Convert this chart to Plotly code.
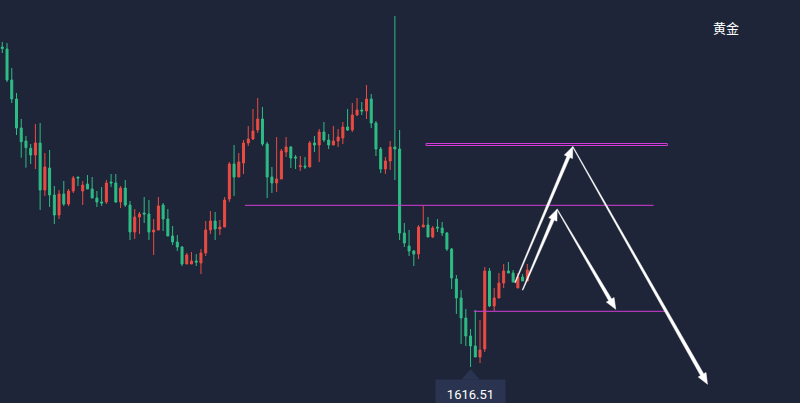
import math
import plotly.graph_objects as go

# ---- data (Gold, OHLC per bar) ----
opens = [1680.51,1680.11,1673.91,1670.11,1664.31,1661.71,1660.25,1658.91,1661.31,1651.91,
         1656.31,1650.91,1646.91,1651.11,1649.11,1651.71,1654.51,1651.71,1653.11,1652.11,
         1650.31,1649.51,1649.51,1653.51,1653.31,1649.51,1652.31,1648.91,1643.51,1646.51,
         1647.31,1647.11,1643.51,1643.91,1648.91,1646.11,1642.71,1641.51,1640.51,1637.11,
         1637.11,1637.71,1637.31,1639.31,1643.91,1645.71,1644.11,1644.51,1650.11,1657.11,
         1654.51,1657.31,1661.31,1662.11,1663.91,1666.11,1661.11,1654.51,1653.31,1654.11,
         1659.51,1660.51,1658.51,1656.57,1656.71,1656.51,1661.31,1660.91,1663.51,1661.91,
         1660.91,1661.71,1662.31,1664.51,1663.91,1666.91,1667.91,1667.71,1670.11,1665.31,
         1660.11,1656.11,1657.71,1660.51,1660.11,1643.31,1640.71,1639.71,1639.11,1644.51,
         1644.91,1642.51,1644.51,1644.31,1643.31,1640.11,1634.11,1630.31,1626.31,1622.71,
         1620.71,1618.51,1620.11,1635.71,1628.71,1630.31,1633.31,1635.71,1635.31,1632.31,
         1634.51,1633.71]
highs = [1681.51,1681.31,1676.31,1671.31,1666.11,1662.71,1661.11,1665.11,1665.31,1659.31,
         1659.91,1652.71,1651.91,1653.71,1652.11,1654.71,1654.51,1653.71,1654.91,1654.51,
         1651.71,1652.51,1653.91,1655.11,1655.11,1652.71,1653.91,1649.71,1648.11,1647.51,
         1650.51,1649.91,1646.11,1650.51,1649.31,1648.11,1644.71,1642.91,1640.71,1639.31,
         1639.51,1639.11,1640.11,1645.71,1647.71,1647.51,1645.91,1650.51,1657.51,1660.91,
         1659.31,1661.91,1664.71,1668.11,1670.31,1668.51,1661.51,1656.51,1662.51,1660.11,
         1662.51,1660.71,1658.91,1658.71,1658.51,1661.71,1662.71,1664.11,1665.51,1663.11,
         1664.71,1664.11,1665.51,1668.11,1669.31,1670.31,1669.51,1672.91,1671.11,1665.71,
         1660.51,1658.51,1661.71,1686.71,1663.91,1645.31,1643.91,1639.91,1644.91,1648.71,
         1646.51,1644.71,1646.11,1645.51,1643.51,1640.31,1634.91,1631.91,1628.11,1624.11,
         1627.91,1625.91,1636.51,1636.31,1632.31,1635.31,1637.11,1637.51,1635.91,1635.31,
         1635.11,1637.11]
lows = [1679.31,1673.51,1669.31,1662.91,1658.37,1656.37,1657.11,1656.11,1647.91,1650.71,
        1648.51,1645.11,1646.11,1648.71,1648.71,1651.31,1652.71,1648.91,1652.11,1650.31,
        1648.51,1648.71,1649.11,1652.51,1649.31,1648.31,1648.51,1641.91,1642.11,1643.11,
        1645.31,1641.91,1638.91,1643.91,1643.71,1642.71,1640.91,1639.71,1636.71,1637.11,
        1637.11,1636.71,1635.11,1638.71,1643.11,1641.91,1642.91,1644.51,1649.51,1650.71,
        1654.51,1655.11,1660.71,1661.91,1663.31,1660.71,1650.31,1651.31,1651.51,1654.11,
        1658.51,1656.31,1656.11,1655.71,1656.11,1656.51,1659.51,1657.51,1661.51,1660.11,
        1660.91,1660.51,1661.11,1663.71,1663.51,1666.71,1666.91,1666.11,1664.31,1658.71,
        1655.31,1655.11,1655.91,1653.91,1641.91,1640.51,1638.71,1636.71,1638.11,1644.51,
        1642.51,1642.31,1643.51,1642.71,1639.71,1632.11,1627.11,1621.11,1620.71,1616.51,
        1618.51,1617.31,1619.51,1628.51,1627.71,1630.31,1632.31,1635.31,1633.51,1632.31,
        1633.71,1633.71]
closes = [1680.21,1673.91,1670.11,1664.31,1661.57,1660.37,1658.91,1661.31,1651.91,1656.51,
          1650.91,1646.91,1651.11,1649.11,1651.71,1654.31,1654.31,1652.91,1652.11,1650.31,
          1649.51,1649.31,1653.31,1653.31,1649.51,1652.31,1648.91,1643.51,1646.51,1647.11,
          1647.11,1643.51,1643.91,1648.71,1646.11,1642.71,1641.51,1640.51,1637.11,1638.91,
          1637.71,1637.51,1639.31,1643.91,1645.71,1644.11,1644.51,1649.91,1657.11,1654.51,
          1657.51,1661.31,1662.11,1663.71,1666.11,1661.11,1654.51,1653.31,1654.11,1659.71,
          1660.51,1658.31,1658.31,1656.77,1656.51,1661.31,1660.91,1663.51,1661.91,1660.91,
          1661.71,1662.51,1664.51,1663.91,1666.91,1667.91,1667.71,1670.11,1665.31,1660.11,
          1656.11,1657.71,1660.51,1660.11,1643.31,1641.31,1639.71,1639.11,1644.51,1644.91,
          1642.51,1644.31,1644.31,1643.31,1640.11,1634.31,1630.31,1626.31,1622.71,1620.71,
          1618.51,1619.91,1635.71,1628.71,1630.31,1633.31,1635.71,1635.31,1633.51,1634.51,
          1633.71,1635.91]
bars = list(range(len(opens)))

title_text = "黄金"

# drawn levels: (x_start, x_end, price)
level_lines = [(51.3, 137.7, 1648.85), (99.7, 140.1, 1627.65)]
level_box = (89.6, 140.6, 1660.81, 1661.21)
# drawn arrows: (x_from, y_from, x_to, y_to, start half-width, end half-width)
arrows = [
    (108.4, 1633.37, 120.6, 1660.57, 0.35, 1.6),
    (110.0, 1631.91, 117.3, 1648.05, 0.35, 1.6),
    (120.6, 1660.57, 149.1, 1613.05, 0.3, 1.8),
    (117.3, 1648.05, 129.7, 1628.05, 0.3, 1.7),
]

BG = "#1e2538"
UP = "#ec4b42"
DOWN = "#2ebd85"
MAG = "#d23cd8"
W, H = 800, 403
XR = [-0.486, 168.65]
YR = [1609.31, 1689.91]

fig = go.Figure()
fig.add_trace(go.Candlestick(
    x=bars, open=opens, high=highs, low=lows, close=closes,
    increasing=dict(line=dict(color=UP, width=1), fillcolor=UP),
    decreasing=dict(line=dict(color=DOWN, width=1), fillcolor=DOWN),
    whiskerwidth=0, hoverinfo="skip", showlegend=False,
))

shapes = []
for x0, x1, yv in level_lines:
    shapes.append(dict(type="line", xref="x", yref="y", x0=x0, x1=x1, y0=yv, y1=yv,
                       line=dict(color=MAG, width=1)))
shapes.append(dict(type="rect", xref="x", yref="y", x0=level_box[0], x1=level_box[1],
                   y0=level_box[2], y1=level_box[3], line=dict(color=MAG, width=1)))

def to_px(x, y):
    return ((x - XR[0]) / (XR[1] - XR[0]) * W, (YR[1] - y) / (YR[1] - YR[0]) * H)

def to_data(px, py):
    return (XR[0] + px / W * (XR[1] - XR[0]), YR[1] - py / H * (YR[1] - YR[0]))

for xa, ya, xb, yb, w0, w1 in arrows:
    ax, ay = to_px(xa, ya)
    bx, by = to_px(xb, yb)
    L = math.hypot(bx - ax, by - ay)
    ux, uy = (bx - ax) / L, (by - ay) / L
    nx, ny = -uy, ux
    hl, hw = 11.0, 4.5
    cx, cy = bx - ux * hl, by - uy * hl
    pts = [(ax + nx * w0, ay + ny * w0), (cx + nx * w1, cy + ny * w1),
           (cx + nx * hw, cy + ny * hw), (bx, by),
           (cx - nx * hw, cy - ny * hw), (cx - nx * w1, cy - ny * w1),
           (ax - nx * w0, ay - ny * w0)]
    d = []
    for k, (px, py) in enumerate(pts):
        dx, dy = to_data(px, py)
        d.append(("M" if k == 0 else "L") + f"{dx:.4f},{dy:.4f}")
    shapes.append(dict(type="path", xref="x", yref="y", path=" ".join(d) + " Z",
                       fillcolor="white", line=dict(color="white", width=0.5)))

# low price marker
lo_idx = min(bars, key=lambda i: lows[i])
lo_val = lows[lo_idx]
shapes.append(dict(type="path", xref="x", yref="y", xsizemode="pixel", ysizemode="pixel",
                   xanchor=lo_idx, yanchor=lo_val, path="M0,-2 L9,-12.5 L-9,-12.5 Z",
                   fillcolor="#2a3450", line=dict(width=0)))

annotations = [
    dict(x=lo_idx, y=lo_val, xref="x", yref="y", text=f"{lo_val:.2f}", showarrow=False,
         xanchor="center", yanchor="top", yshift=-12, width=67, height=26, bgcolor="#2a3450",
         font=dict(color="white", size=13, family="Roboto, Arial, sans-serif")),
    dict(x=726 / W, y=1 - 27.5 / H, xref="paper", yref="paper", text=title_text,
         xanchor="center", yanchor="middle",
         showarrow=False, font=dict(color="white", size=13, family="Noto Sans CJK SC")),
]

fig.update_layout(
    width=W, height=H, margin=dict(l=0, r=0, t=0, b=0),
    paper_bgcolor=BG, plot_bgcolor=BG, boxgap=0.4,
    xaxis=dict(range=XR, visible=False, rangeslider=dict(visible=False), fixedrange=True),
    yaxis=dict(range=YR, visible=False, fixedrange=True),
    shapes=shapes, annotations=annotations, showlegend=False,
)

fig.write_html("out.html", config={"displayModeBar": False},
               post_script="document.body.style.margin='0';document.body.style.background='" + BG + "';")
